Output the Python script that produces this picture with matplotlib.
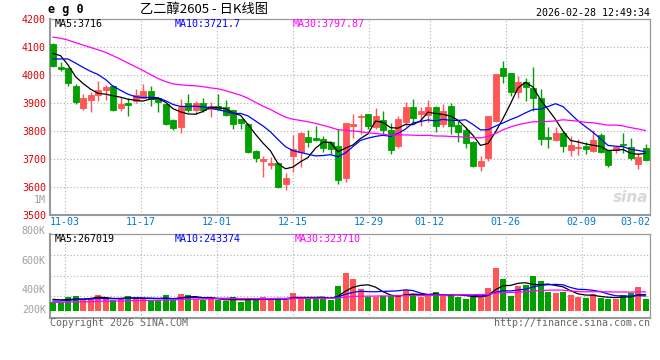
import numpy as np
import pandas as pd
import matplotlib
matplotlib.use("Agg")
import matplotlib.pyplot as plt

plt.rcParams["font.family"] = ["DejaVu Sans Mono", "Noto Sans CJK SC"]

# trading days shown (eg0 daily K, Friday night session counts as 03-02)
days = pd.bdate_range("2025-10-30", "2026-03-02", freq="C",
                      holidays=["2026-01-01", "2026-01-02", "2026-02-16", "2026-02-17",
                                "2026-02-18", "2026-02-19", "2026-02-20", "2026-02-23"])
day_str = days.strftime("%m-%d").tolist()
tick_labels = ["11-03", "11-17", "12-01", "12-15", "12-29", "01-12", "01-26", "02-09", "03-02"]

open_ = [4110, 4026, 4025, 3960, 3882, 3910, 3928, 3945, 3960, 3882,
         3899, 3907, 3918, 3942, 3918, 3895, 3838, 3814, 3899, 3874,
         3899, 3877, 3888, 3886, 3874, 3842, 3824, 3727, 3693, 3677,
         3686, 3610, 3711, 3725, 3777, 3773, 3770, 3758, 3745, 3632,
         3818, 3849, 3860, 3812, 3838, 3802, 3747, 3832, 3886, 3860,
         3856, 3886, 3824, 3888, 3820, 3802, 3761, 3674, 3701, 3836,
         4024, 4005, 3939, 3973, 3951, 3916, 3777, 3768, 3792, 3732,
         3740, 3745, 3729, 3785, 3730, 3731, 3752, 3740, 3682, 3737]
high = [4112, 4046, 4027, 3967, 3931, 3940, 3979, 3963, 3962, 3922,
        3916, 3949, 3967, 3961, 3921, 3897, 3842, 3913, 3931, 3906,
        3918, 3901, 3930, 3910, 3875, 3843, 3826, 3731, 3711, 3707,
        3688, 3650, 3785, 3797, 3802, 3817, 3781, 3763, 3805, 3829,
        3860, 3860, 3861, 3882, 3870, 3826, 3852, 3904, 3913, 3886,
        3910, 3888, 3895, 3900, 3835, 3814, 3763, 3710, 3853, 4004,
        4048, 4007, 3995, 3989, 4027, 3949, 3814, 3812, 3800, 3782,
        3769, 3759, 3801, 3791, 3732, 3745, 3791, 3773, 3719, 3752]
low = [4028, 4013, 3961, 3895, 3874, 3868, 3907, 3910, 3870, 3872,
       3852, 3898, 3916, 3889, 3868, 3820, 3802, 3793, 3868, 3860,
       3866, 3850, 3873, 3852, 3805, 3805, 3719, 3690, 3636, 3663,
       3594, 3588, 3654, 3672, 3743, 3763, 3725, 3716, 3610, 3618,
       3775, 3788, 3806, 3805, 3788, 3716, 3737, 3817, 3826, 3818,
       3832, 3797, 3812, 3788, 3761, 3739, 3672, 3656, 3692, 3830,
       3972, 3925, 3916, 3907, 3870, 3749, 3737, 3764, 3723, 3711,
       3713, 3716, 3725, 3720, 3672, 3720, 3719, 3695, 3665, 3692]
close = [4031, 4019, 3972, 3904, 3918, 3929, 3945, 3957, 3874, 3894,
         3892, 3927, 3942, 3912, 3904, 3824, 3811, 3886, 3874, 3899,
         3873, 3888, 3877, 3856, 3824, 3829, 3723, 3704, 3698, 3686,
         3600, 3632, 3735, 3793, 3761, 3767, 3737, 3735, 3624, 3826,
         3824, 3852, 3818, 3852, 3802, 3731, 3842, 3886, 3847, 3870,
         3886, 3818, 3870, 3818, 3797, 3757, 3674, 3692, 3852, 4002,
         3997, 3939, 3973, 3955, 3916, 3769, 3769, 3792, 3747, 3749,
         3742, 3735, 3767, 3725, 3679, 3743, 3750, 3701, 3706, 3695]
volume = [153900, 153900, 233700, 256500, 199500, 199500, 267900, 199500, 182400, 199500,
          250800, 233700, 199500, 176700, 176700, 267900, 182400, 285000, 267900, 199500,
          176700, 199500, 182400, 165300, 233700, 153900, 216600, 182400, 233700, 199500,
          216600, 182400, 302100, 233700, 199500, 216600, 205200, 182400, 421800, 649800,
          541500, 370500, 228000, 228000, 256500, 256500, 267900, 353400, 285000, 228000,
          256500, 319200, 256500, 285000, 239400, 199500, 228000, 239400, 393300, 729600,
          541500, 256500, 421800, 438900, 592800, 507300, 319200, 302100, 319200, 267900,
          233700, 216600, 285000, 216600, 199500, 199500, 267900, 296400, 404700, 199500]

# days before the window, estimated from where the MA lines start
pre_close = [4150, 4165, 4175, 4180, 4182, 4200, 4225, 4245, 4260, 4300,
             4330, 4345, 4340, 4332, 4150, 4060, 3980, 3950, 3934, 3968,
             4019, 3971, 4050, 4070, 4071, 4059, 4136, 4114, 4040]
pre_vol = [128000, 135000, 122000, 140000, 131000, 126000, 138000, 129000, 133000, 124000,
           136000, 130000, 127000, 134000, 125000, 132000, 137000, 128000, 131000, 134000,
           140000, 132000, 138000, 134000, 136000, 190000, 215000, 198000, 209000]

price_ma = ["3716", "3721.7", "3797.87"]
vol_ma = ["267019", "243374", "323710"]

RED = "#ff5555"
GREEN = "#00a000"
MA_COLORS = ["black", "#0000ff", "#ff00ff"]
GRID = dict(color="#b0b0b0", lw=0.8, ls=(0, (1, 2)))

n = len(close)
x = np.arange(n)
o, h, l, c, v = map(np.array, (open_, high, low, close, volume))
up = c >= o
cols = np.where(up, RED, GREEN)

def rolling(pre, vals, w):
    s = pd.Series(np.r_[pre, vals]).rolling(w).mean().to_numpy()
    return s[-len(vals):]

W, H = 660, 360
fig = plt.figure(figsize=(W / 100, H / 100), dpi=100)
ax = fig.add_axes([50 / W, 1 - 214.7 / H, 600 / W, 196 / H])
axv = fig.add_axes([50 / W, 1 - 318 / H, 600 / W, 84 / H], sharex=ax)

# candles
ax.vlines(x, l, h, colors=cols, lw=1, zorder=3)
ax.bar(x, np.maximum(np.abs(c - o), 0.5), 0.8, bottom=np.minimum(o, c),
       color=cols, edgecolor=cols, lw=0.6, zorder=4)
for w, col in zip((5, 10, 30), MA_COLORS):
    ax.plot(x, rolling(pre_close, c, w), color=col, lw=0.9, zorder=5)

# volume
axv.bar(x, v, 0.8, color=cols, zorder=3)
for w, col in zip((5, 10, 30), MA_COLORS):
    axv.plot(x, rolling(pre_vol, v, w), color=col, lw=0.9, zorder=4)

# sina spaces its date grid over 79 steps while candles use 80 slots
tick_idx = np.array([day_str.index(t) for t in tick_labels])
tick_pos = tick_idx * 80 / 79 - 0.4

ax.set_xlim(-0.4, n - 0.4)
ax.set_ylim(3500, 4200)
ax.set_yticks(np.arange(3500, 4201, 100))
ax.set_xticks(tick_pos)
ax.set_xticklabels(tick_labels)
ax.tick_params(length=0, labelsize=7.2)
ax.tick_params(axis="y", colors="#e00000", pad=3)
ax.tick_params(axis="x", colors="#0078d7", pad=2)
ax.get_xticklabels()[-1].set_ha("right")
ax.grid(True, **GRID)

vlo, vhi = -125000, 1311600
axv.set_ylim(vlo, vhi)
axv.set_yticks([])
axv.tick_params(length=0, labelbottom=False)
axv.xaxis.grid(True, **GRID)
for f in (0.262, 0.5, 0.75):
    axv.axhline(vlo + f * (vhi - vlo), **GRID)
for lab, f in [("1M", 1.405), ("800K", 1.036), ("600K", 0.679), ("400K", 0.333), ("200K", 0.095)]:
    axv.text(-0.007, f, lab, transform=axv.transAxes, ha="right", va="center",
             fontsize=7.2, color="#a0a0a0", clip_on=False)

for a in (ax, axv):
    for s in a.spines.values():
        s.set_color("#999999")
        s.set_linewidth(0.9)
    a.spines["left"].set_linewidth(1.5)
    a.spines["bottom"].set_linewidth(1.5)

def ftext(px, py, s, **kw):
    kw.setdefault("fontsize", 7.2)
    fig.text(px / W, 1 - py / H, s, va="center", **kw)

ftext(48, 10, "e g 0", fontweight="bold", fontsize=8.5)
ftext(140, 10, "乙二醇2605 - 日K线图", fontsize=9.5,
      family=["Noto Sans CJK SC", "DejaVu Sans"])
ftext(650, 12.5, "2026-02-28 12:49:34", ha="right")
for px, name, val, col in zip((55, 175, 293), ("MA5", "MA10", "MA30"), price_ma, MA_COLORS):
    ftext(px, 24, f"{name}:{val}", color=col)
for px, name, val, col in zip((55, 175, 295), ("MA5", "MA10", "MA30"), vol_ma, MA_COLORS):
    ftext(px, 238.5, f"{name}:{val}", color=col)
ftext(50, 323.5, "Copyright 2026 SINA.COM", color="#666666")
ftext(650, 323.5, "http://finance.sina.com.cn", color="#666666", ha="right")

ax.text(0.997, 0.05, "sina", transform=ax.transAxes, ha="right", va="bottom",
        fontsize=11, style="italic", fontweight="bold", color="#d8d8d8",
        family="DejaVu Sans", zorder=1)

fig.savefig("out.png", dpi=100)
